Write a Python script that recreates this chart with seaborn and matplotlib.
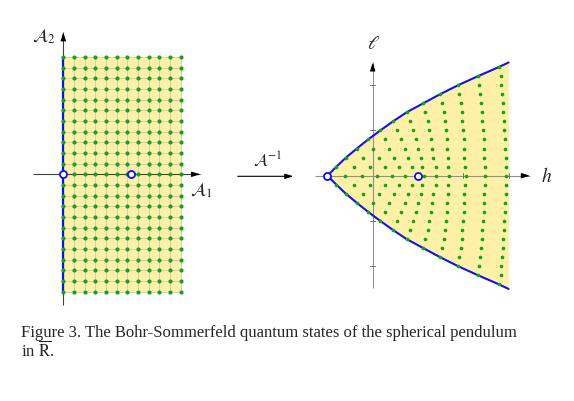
import matplotlib
matplotlib.use("Agg")
import matplotlib.pyplot as plt
import numpy as np
import pandas as pd
import seaborn as sns

# ---- left panel: lattice of action values (A1, A2) ----
a1_values = [0, 1, 2, 3, 4, 5, 6, 7, 8, 9, 10, 11]
a2_values = [-11, -10, -9, -8, -7, -6, -5, -4, -3, -2, -1, 0,
             1, 2, 3, 4, 5, 6, 7, 8, 9, 10, 11]
left_singular_a1 = [0.0, 6.375]
left_singular_a2 = [0.0, 0.0]

# ---- right panel: quantum states in the (h, l) plane, upper half rows ----
ell_rows = [0.0, 0.2, 0.4, 0.6, 0.8, 1.0, 1.2, 1.4, 1.6, 1.8, 2.0, 2.2, 2.4]
h_rows = [
    [-1.0, -0.61, -0.24, 0.09, 0.43, 0.71, 1.13, 1.39, 1.69, 2.06, 2.48, 2.94],
    [-0.80, -0.42, -0.06, 0.28, 0.59, 0.86, 1.09, 1.39, 1.67, 2.04, 2.48, 2.94],
    [-0.59, -0.21, 0.15, 0.48, 0.78, 1.07, 1.34, 1.66, 2.02, 2.46, 2.94],
    [-0.35, 0.01, 0.37, 0.71, 1.01, 1.30, 1.65, 2.02, 2.46, 2.92],
    [-0.10, 0.28, 0.62, 0.96, 1.29, 1.63, 2.02, 2.45, 2.92],
    [0.17, 0.54, 0.89, 1.25, 1.62, 2.00, 2.44, 2.90],
    [0.45, 0.83, 1.21, 1.60, 1.98, 2.42, 2.89],
    [0.75, 1.15, 1.57, 1.97, 2.41, 2.88],
    [1.12, 1.52, 1.94, 2.39, 2.87],
    [1.49, 1.91, 2.37, 2.85],
    [1.89, 2.35, 2.84],
    [2.33, 2.83],
    [2.79],
]
boundary_h = [-1.0, -0.80, -0.59, -0.35, -0.10, 0.17, 0.45, 0.75, 1.12,
              1.49, 1.89, 2.33, 2.79, 3.0]
boundary_l = [0.0, 0.2, 0.4, 0.6, 0.8, 1.0, 1.2, 1.4, 1.6, 1.8, 2.0, 2.2,
              2.4, 2.5]
right_singular_h = [-1.0, 1.0]
right_singular_l = [0.0, 0.0]
h_ticks = [1, 2, 3]
l_ticks = [-2, -1, 1, 2]

YELLOW = "#fff0a8"
GREEN = "#14a514"
BLUE = "#1010f0"
GRID = "#c8c8c8"

W, H = 574, 402
sns.set_style("white")
plt.rcParams["font.family"] = ["Liberation Serif", "DejaVu Serif"]
plt.rcParams["mathtext.fontset"] = "stix"

fig = plt.figure(figsize=(W / 100, H / 100), dpi=100)


def place_axes(box, origin, scale):
    # box = (x0, y0, x1, y1) in image pixels (top-down), origin pixel of (0,0)
    x0, y0, x1, y1 = box
    ax = fig.add_axes([x0 / W, 1 - y1 / H, (x1 - x0) / W, (y1 - y0) / H])
    ox, oy = origin
    ax.set_xlim((x0 - ox) / scale, (x1 - ox) / scale)
    ax.set_ylim((oy - y1) / scale, (oy - y0) / scale)
    ax.set_axis_off()
    return ax


def axis_arrow(ax, p0, p1, color, lw=0.8):
    ax.plot([p0[0], p1[0]], [p0[1], p1[1]], color=color, lw=lw, zorder=1.5,
            solid_capstyle="butt")
    ax.annotate("", xy=p1, xytext=(p0[0] * 0.02 + p1[0] * 0.98,
                                   p0[1] * 0.02 + p1[1] * 0.98),
                arrowprops=dict(arrowstyle="-|>,head_length=0.8,head_width=0.25",
                                color="black", lw=0.8, mutation_scale=6,
                                shrinkA=0, shrinkB=0), zorder=5)


# ---------------- left panel ----------------
axl = place_axes((15, 20, 225, 315), (63.3, 175.3), 10.667)
a1_max, a2_min, a2_max = max(a1_values), min(a2_values), max(a2_values)
axl.fill_between([0, a1_max], a2_min, a2_max, color=YELLOW, lw=0, zorder=0)
for a in a1_values:
    axl.plot([a, a], [a2_min, a2_max], color=GRID, lw=0.6, zorder=0.5)
for a in a2_values:
    axl.plot([0, a1_max], [a, a], color=GRID, lw=0.6, zorder=0.5)
axis_arrow(axl, (-2.87, 0), (12.82, 0), "#404040")
axis_arrow(axl, (0, -12.25), (0, 13.31), "#404040")
axl.plot([0, 0], [a2_min, a2_max], color=BLUE, lw=1.6, zorder=2)

grid = pd.DataFrame([(a, b) for a in a1_values for b in a2_values],
                    columns=["A1", "A2"])
sns.scatterplot(data=grid, x="A1", y="A2", ax=axl, color=GREEN, s=9,
                linewidth=0, zorder=3, legend=False)
axl.scatter(left_singular_a1, left_singular_a2, s=26, facecolor="white",
            edgecolor=BLUE, linewidth=1.3, zorder=4)
axl.set_axis_off()
axl.text(-1.8, 12.95, r"$\mathcal{A}_2$", fontsize=13, ha="center",
         va="center")
axl.text(12.95, -1.45, r"$\mathcal{A}_1$", fontsize=13, ha="center",
         va="center")

# ---------------- right panel ----------------
axr = place_axes((305, 30, 565, 300), (372.7, 176.7), 45.3)
bh = np.array(boundary_h)
bl = np.array(boundary_l)
axr.fill_between(bh, -bl, bl, color=YELLOW, lw=0, zorder=0)
axis_arrow(axr, (-1.27, 0), (3.47, 0), "#909090")
axis_arrow(axr, (0, -2.49), (0, 2.50), "#909090")
for t in h_ticks:
    axr.plot([t, t], [-0.06, 0.06], color="#707070", lw=0.7, zorder=1.6)
for t in l_ticks:
    axr.plot([-0.06, 0.06], [t, t], color="#707070", lw=0.7, zorder=1.6)
axr.plot(bh, bl, color=BLUE, lw=1.5, zorder=2)
axr.plot(bh, -bl, color=BLUE, lw=1.5, zorder=2)

rows = []
for ell, hs in zip(ell_rows, h_rows):
    for h in hs:
        rows.append((h, ell))
        if ell > 0:
            rows.append((h, -ell))
states = pd.DataFrame(rows, columns=["h", "l"])
sns.scatterplot(data=states, x="h", y="l", ax=axr, color=GREEN, s=7,
                linewidth=0, zorder=3, legend=False)
axr.scatter(right_singular_h, right_singular_l, s=26, facecolor="white",
            edgecolor=BLUE, linewidth=1.3, zorder=4)
axr.set_axis_off()
axr.text(0.03, 2.91, r"$\ell$", fontsize=14, ha="center", va="center")
axr.text(3.85, 0.0, r"$h$", fontsize=14, ha="center", va="center")

# ---------------- middle arrow and caption ----------------
fig.add_artist(matplotlib.patches.FancyArrowPatch(
    (237.7 / W, 1 - 177.3 / H), (293.3 / W, 1 - 177.3 / H),
    transform=fig.transFigure, arrowstyle="-|>,head_length=0.8,head_width=0.25",
    mutation_scale=6, color="black", lw=0.8, shrinkA=0, shrinkB=0))
fig.text(268 / W, 1 - 160 / H, r"$\mathcal{A}^{-1}$", fontsize=12,
         ha="center", va="center")

fig.text(21 / W, 1 - 337 / H,
         "Figure 3. The Bohr-Sommerfeld quantum states of the spherical pendulum",
         fontsize=12, ha="left", va="baseline")
fig.text(21 / W, 1 - 357 / H, r"in $\overline{\mathrm{R}}$.", fontsize=12,
         ha="left", va="baseline")

fig.savefig("out.png", dpi=100)
